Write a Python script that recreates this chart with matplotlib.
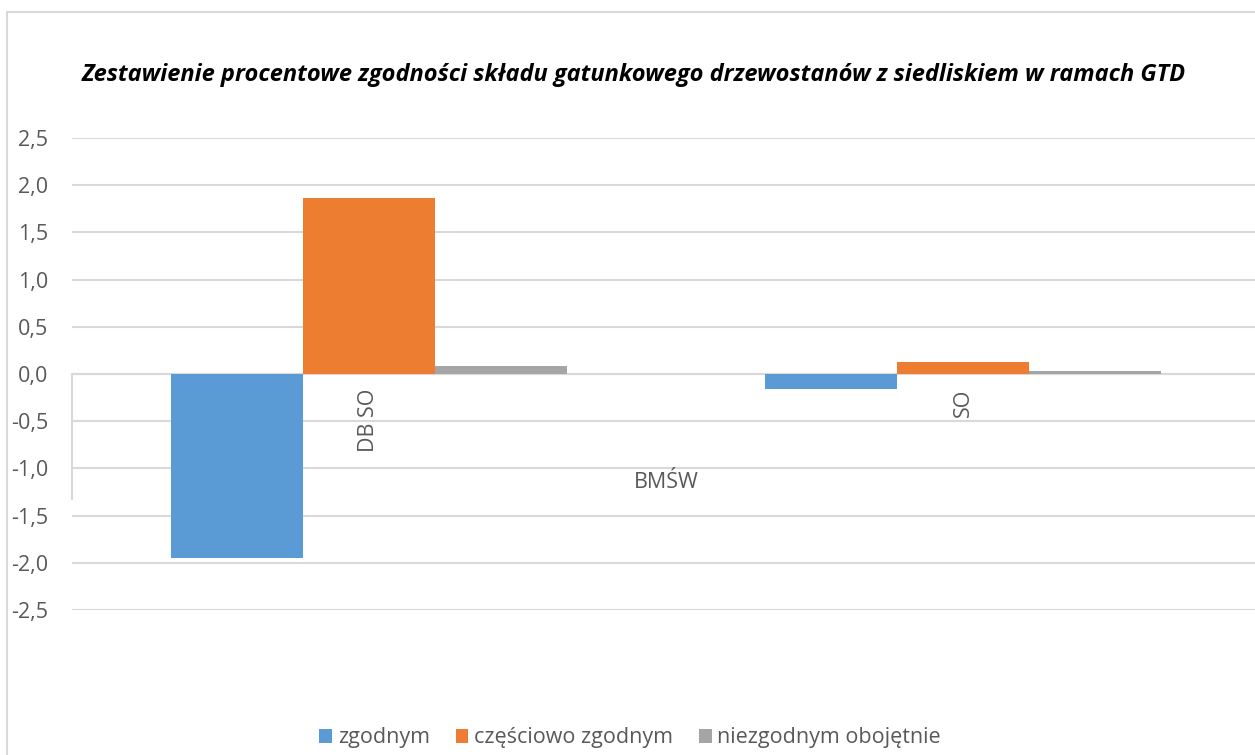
import matplotlib.pyplot as plt
import numpy as np
from matplotlib.patches import Rectangle
from matplotlib.lines import Line2D

# data
categories = ["DB SO", "SO"]
group_label = "BMŚW"
series_names = ["zgodnym", "częściowo zgodnym", "niezgodnym obojętnie"]
zgodnym = [-1.95, -0.16]
czesciowo = [1.86, 0.13]
niezgodnym = [0.08, 0.03]
colors = ["#5b9bd5", "#ed7d31", "#a5a5a5"]
title = "Zestawienie procentowe zgodności składu gatunkowego drzewostanów z siedliskiem w ramach GTD"

plt.rcParams["font.family"] = ["Open Sans", "DejaVu Sans"]
fs = 15.5

W, H = 1255, 755
fig = plt.figure(figsize=(W / 100, H / 100), dpi=100)

# chart border (cut off at right and bottom like the reference)
fig.patches.append(Rectangle((7 / W, -0.1), 1.2, (H - 12) / H + 0.1,
                             transform=fig.transFigure, fill=False,
                             edgecolor="#d9d9d9", linewidth=1.5))

# plot area in pixels: x 72..1260, y 138..610
ax = fig.add_axes([72 / W, (H - 610) / H, (1260 - 72) / W, (610 - 138) / H])

x = np.arange(len(categories))
width = 2 / 9
for i, (vals, name) in enumerate(zip([zgodnym, czesciowo, niezgodnym], series_names)):
    ax.bar(x + (i - 1) * width, vals, width, color=colors[i], label=name, zorder=3)

ax.set_xlim(-0.5, len(categories) - 0.5)
ax.set_ylim(-2.5, 2.5)
yt = np.arange(-2.5, 2.51, 0.5)
ax.set_yticks(yt)
ax.set_yticklabels([f"{v:.1f}".replace(".", ",") for v in yt])
ax.tick_params(axis="y", length=0, pad=17, labelsize=fs, labelcolor="#595959")
ax.tick_params(axis="x", length=0, labelbottom=False)
ax.grid(axis="y", color="#d9d9d9", linewidth=1.5, zorder=0)
for s in ax.spines.values():
    s.set_visible(False)
ax.axhline(0, color="#d9d9d9", linewidth=1.5, zorder=1)

# category labels, rotated, hanging below zero
for xi, cat in zip(x, categories):
    ax.text(xi, -0.16, cat, rotation=90, ha="center", va="top",
            fontsize=fs, color="#595959")

# multi-level axis divider and group label
ax.add_line(Line2D([0, 0], [0, -1.32], color="#d9d9d9", linewidth=1.5,
                   transform=ax.get_yaxis_transform(), clip_on=False))
ax.text(0.5, -1.15, group_label, transform=ax.get_yaxis_transform(),
        ha="center", va="center", fontsize=fs, color="#595959")

fig.text(634 / W, 1 - 75 / H, title, ha="center", va="center",
         fontsize=17, fontweight="bold", fontstyle="italic", color="black")

fig.legend(loc="center", bbox_to_anchor=(630 / W, 1 - 738 / H), ncol=3,
           frameon=False, fontsize=fs, handlelength=0.6, handleheight=0.6,
           handletextpad=0.25, columnspacing=1.2, labelcolor="#595959")

plt.savefig("out.png", dpi=100)
